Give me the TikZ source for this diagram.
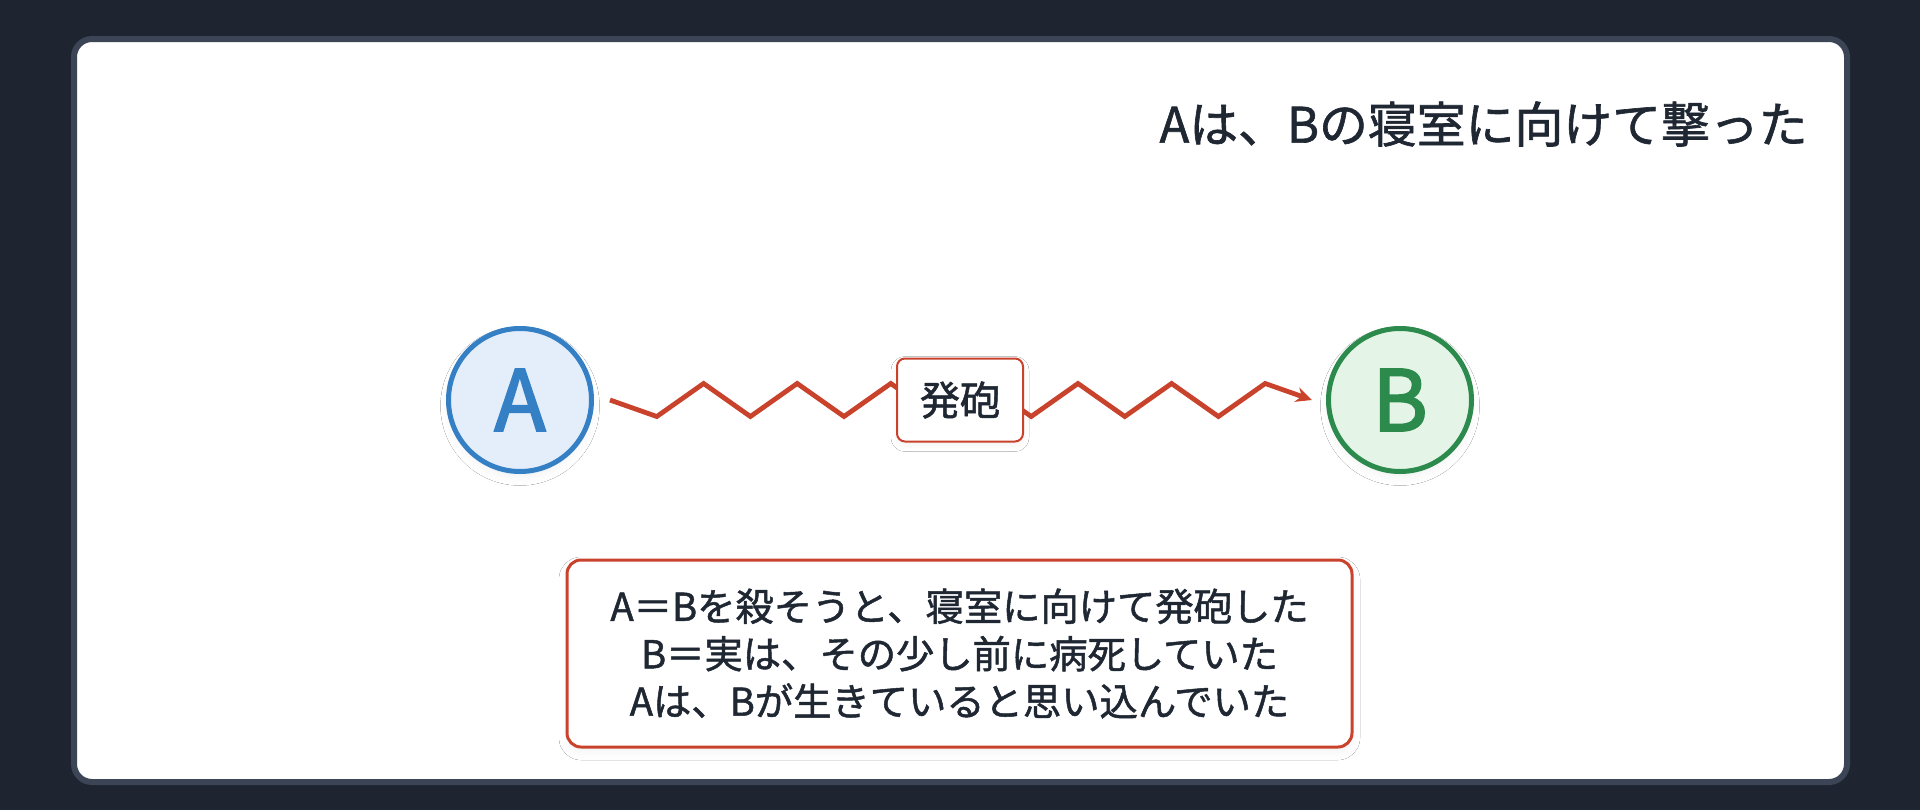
\documentclass[tikz,border=0pt]{standalone}
\usepackage{fontspec}
\setmainfont{Noto Sans CJK JP}[FakeBold=1.3]
\newfontfamily\heavy{Noto Sans CJK JP}[FakeBold=2.4]
\usetikzlibrary{arrows.meta,%
                calc,%
                shadows.blur}
\definecolor{bg}{HTML}{1E2530}
\definecolor{rim}{HTML}{3B4556}
\definecolor{ink}{HTML}{1F2733}
\definecolor{shot}{HTML}{C9432C}
\definecolor{blueA}{HTML}{3580C5}
\definecolor{blueL}{HTML}{E4EEFA}
\definecolor{greenB}{HTML}{2B8A4C}
\definecolor{greenL}{HTML}{E4F5E7}

\begin{document}
\begin{tikzpicture}[x=0.1mm,y=-0.1mm,
  person/.style={circle,inner sep=0pt,minimum size=14.3mm,line width=0.5mm,
                 font=\heavy\fontsize{24pt}{24pt}\selectfont,
                 blur shadow={shadow xshift=0mm,shadow yshift=-0.6mm,shadow blur radius=0.8mm,shadow opacity=5}},
  tag/.style={draw=shot,fill=white,line width=0.2mm,rounded corners=0.8mm,
              minimum width=12.6mm,minimum height=8.3mm,text=ink,
              font=\fontsize{11.4pt}{12pt}\selectfont,
              blur shadow={shadow xshift=0mm,shadow yshift=-0.4mm,shadow blur radius=0.6mm,shadow opacity=5}},
  note/.style={draw=shot,fill=white,line width=0.3mm,rounded corners=1.4mm,
               minimum width=78.5mm,minimum height=18.7mm,align=center,text=ink,
               font=\fontsize{10.9pt}{13.5pt}\selectfont,
               blur shadow={shadow xshift=0mm,shadow yshift=-0.5mm,shadow blur radius=0.8mm,shadow opacity=5}},
  wave/.style={draw=shot,line width=0.48mm,-{Stealth[length=1.6mm,width=1.5mm]}}]
\useasboundingbox (0,0) rectangle (1920,810);
\fill[bg] (0,0) rectangle (1920,810);
\draw[rim,fill=white,line width=0.6mm,rounded corners=1.8mm] (74,39) rectangle (1847,782);

\node[anchor=east,text=ink,font=\fontsize{13.9pt}{14pt}\selectfont] (title) at (1820,124) {Aは、Bの寝室に向けて撃った};

\node[person,draw=blueA,fill=blueL,text=blueA] (A) at (520,400) {A};
\node[person,draw=greenB,fill=greenL,text=greenB] (B) at (1400,400) {B};

\coordinate (s) at ([xshift=1.6mm]A.east);
\coordinate (e) at ([xshift=-1.4mm]B.west);
\draw[wave] (s) \foreach \k in {1,...,14} { -- ($(s)!\k/15!(e)+(0,{-16.5*cos(180*\k)})$) } -- (e);

\node[tag] (fire) at ($(A)!0.5!(B)$) {発砲};

\node[note] (facts) at (959.5,653.5) {A＝Bを殺そうと、寝室に向けて発砲した\\B＝実は、その少し前に病死していた\\Aは、Bが生きていると思い込んでいた};
\end{tikzpicture}
\end{document}
